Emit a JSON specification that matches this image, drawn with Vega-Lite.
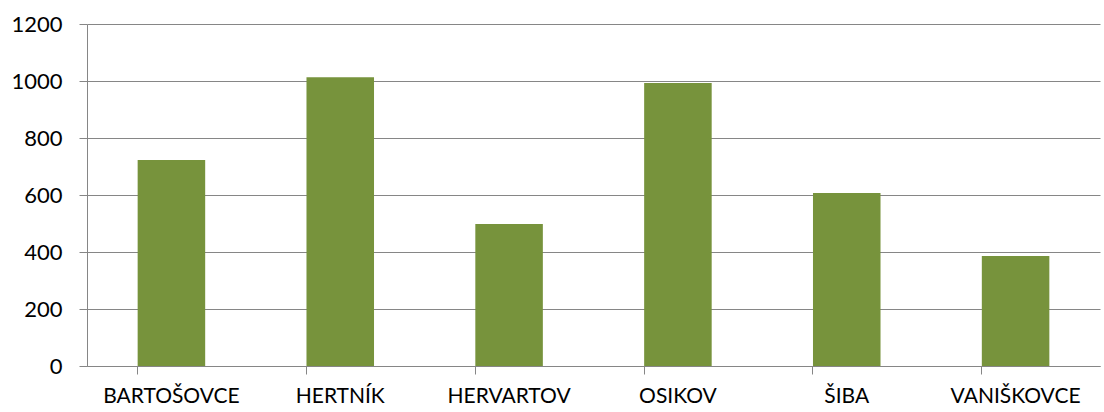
{
  "$schema": "https://vega.github.io/schema/vega-lite/v6.json",
  "width": 1013,
  "height": 342,
  "autosize": {"type": "none"},
  "padding": {"left": 87, "top": 24, "right": 4, "bottom": 46},
  "background": "white",
  "config": {"view": {"stroke": null}, "font": "Lato"},
  "data": {
    "values": [
      {"obec": "BARTOŠOVCE", "hodnota": 723},
      {"obec": "HERTNÍK", "hodnota": 1013},
      {"obec": "HERVARTOV", "hodnota": 498},
      {"obec": "OSIKOV", "hodnota": 993},
      {"obec": "ŠIBA", "hodnota": 607},
      {"obec": "VANIŠKOVCE", "hodnota": 386}
    ]
  },
  "mark": {"type": "bar", "color": "#77933C"},
  "encoding": {
    "x": {
      "field": "obec",
      "type": "nominal",
      "sort": null,
      "scale": {"paddingInner": 0.6, "paddingOuter": 0.3},
      "axis": {
        "title": null,
        "labelAngle": 0,
        "labelFontSize": 21,
        "labelFontWeight": "normal",
        "labelColor": "#000000",
        "labelPadding": 11,
        "domainColor": "#868686",
        "tickColor": "#868686",
        "tickSize": 8,
        "bandPosition": 0,
        "grid": false
      }
    },
    "y": {
      "field": "hodnota",
      "type": "quantitative",
      "scale": {"domain": [0, 1200]},
      "axis": {
        "title": null,
        "values": [0, 200, 400, 600, 800, 1000, 1200],
        "format": "d",
        "labelFontSize": 22,
        "labelColor": "#000000",
        "labelPadding": 17,
        "domainColor": "#868686",
        "tickColor": "#868686",
        "tickSize": 8,
        "gridColor": "#868686",
        "gridOpacity": 1
      }
    }
  }
}
